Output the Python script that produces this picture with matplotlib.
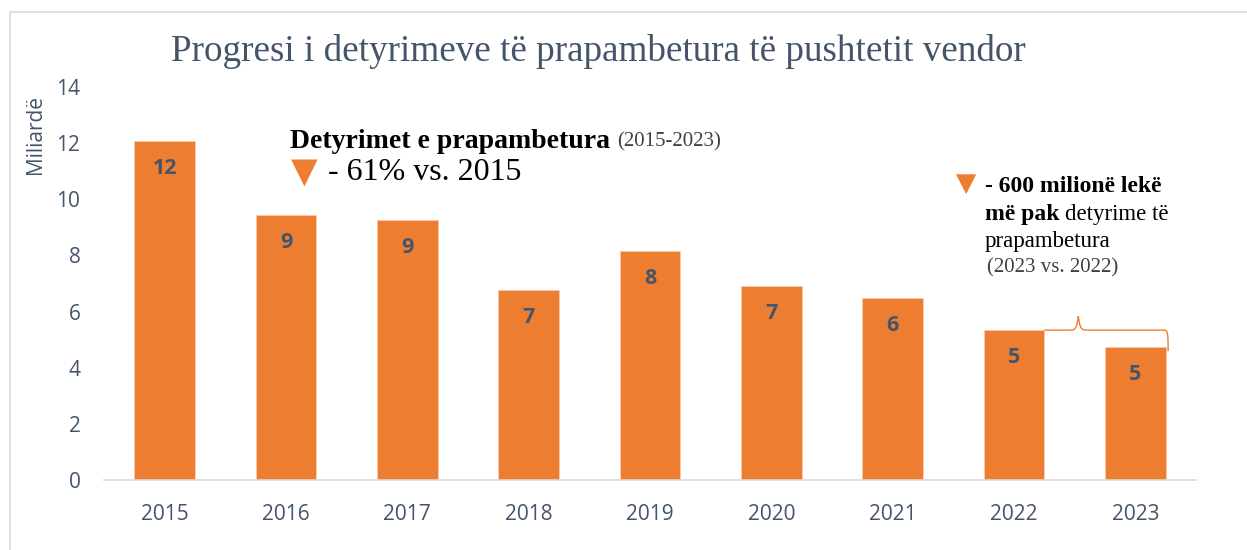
import numpy as np
import matplotlib
matplotlib.use("Agg")
import matplotlib.pyplot as plt
from matplotlib.path import Path
from matplotlib.patches import PathPatch, Rectangle

years = ["2015", "2016", "2017", "2018", "2019", "2020", "2021", "2022", "2023"]
values = [12.08, 9.44, 9.26, 6.77, 8.16, 6.91, 6.48, 5.34, 4.74]
labels = ["12", "9", "9", "7", "8", "7", "6", "5", "5"]
yticks = [0, 2, 4, 6, 8, 10, 12, 14]

ORANGE = "#ED7D31"
SLATE = "#44546A"

fig = plt.figure(figsize=(12.47, 5.5), dpi=100)
ax = fig.add_axes([104 / 1247, 1 - 480 / 550, (1196 - 104) / 1247, (480 - 87) / 550])

x = np.arange(len(years))
ax.bar(x, values, width=0.5, color=ORANGE, edgecolor="#F8CBAD", linewidth=0.6, zorder=2)

for xi, v, lab in zip(x, values, labels):
    ax.text(xi, v - 0.98, lab, ha="center", va="center", fontsize=15.5,
            fontweight="bold", color=SLATE, family="Open Sans")

ax.set_xlim(-0.5, 8.5)
ax.set_ylim(0, 14)
ax.set_yticks(yticks)
ax.set_xticks(x)
ax.set_xticklabels(years)
ax.tick_params(axis="both", length=0, labelsize=15, labelcolor=SLATE)
ax.tick_params(axis="x", pad=17)
ax.tick_params(axis="y", pad=17)
for lab in ax.get_xticklabels() + ax.get_yticklabels():
    lab.set_family("Open Sans")
for s in ["top", "right", "left"]:
    ax.spines[s].set_visible(False)
ax.spines["bottom"].set_color("#D9D9D9")
ax.spines["bottom"].set_linewidth(1.2)

ax.set_ylabel("Miliardë", fontsize=15, color=SLATE, family="Open Sans")
ax.yaxis.set_label_coords(-0.053, 0.878)

# title
fig.text(598 / 1247, 1 - 52 / 550, "Progresi i detyrimeve të prapambetura të pushtetit vendor",
         ha="center", va="center", fontsize=26.7, color=SLATE, family="Liberation Serif")

# left annotation
fig.text(290 / 1247, 1 - 142 / 550, "Detyrimet e prapambetura", ha="left", va="center",
         fontsize=20, fontweight="bold", color="black", family="Liberation Serif")
fig.text(617 / 1247, 1 - 142 / 550, "(2015-2023)", ha="left", va="center",
         fontsize=15, color="#404040", family="Liberation Serif")
fig.text(304 / 1247, 1 - 172 / 550, "▼", ha="center", va="center", fontsize=25,
         color=ORANGE, family="DejaVu Sans")
fig.text(328 / 1247, 1 - 173 / 550, "- 61% vs. 2015", ha="left", va="center",
         fontsize=23, color="black", family="Liberation Serif")

# right annotation
fig.text(966 / 1247, 1 - 184 / 550, "▼", ha="center", va="center", fontsize=19,
         color=ORANGE, family="DejaVu Sans")
fig.text(985 / 1247, 1 - 186 / 550, "- 600 milionë lekë", ha="left", va="center",
         fontsize=17, fontweight="bold", color="black", family="Liberation Serif")
fig.text(985 / 1247, 1 - 214 / 550, "më pak", ha="left", va="center",
         fontsize=17, fontweight="bold", color="black", family="Liberation Serif")
fig.text(1065 / 1247, 1 - 214 / 550, "detyrime të", ha="left", va="center",
         fontsize=16.5, color="black", family="Liberation Serif")
fig.text(985 / 1247, 1 - 242 / 550, "prapambetura", ha="left", va="center",
         fontsize=16.5, color="black", family="Liberation Serif")
fig.text(987 / 1247, 1 - 268 / 550, "(2023 vs. 2022)", ha="left", va="center",
         fontsize=15, color="#404040", family="Liberation Serif")

# brace between 2022 and 2023
y0 = values[-2]
x0, x1 = 7 + 0.25, 8 + 0.27
xm = 7.53
verts = [(x0, y0), (xm - 0.06, y0), (xm - 0.02, y0), (xm - 0.01, y0 + 0.15),
         (xm, y0 + 0.5), (xm, y0 + 0.5),
         (xm + 0.01, y0 + 0.15), (xm + 0.02, y0), (xm + 0.06, y0),
         (x1 - 0.03, y0), (x1, y0), (x1, y0 - 0.2), (x1, y0 - 0.75)]
codes = [Path.MOVETO, Path.LINETO, Path.CURVE4, Path.CURVE4, Path.CURVE4,
         Path.MOVETO, Path.CURVE4, Path.CURVE4, Path.CURVE4,
         Path.LINETO, Path.CURVE4, Path.CURVE4, Path.CURVE4]
ax.add_patch(PathPatch(Path(verts, codes), facecolor="none", edgecolor=ORANGE,
                       linewidth=1.0, clip_on=False, zorder=3))

# frame
fig.add_artist(Rectangle((10 / 1247, -0.1), 1.2, 1 - 12 / 550 + 0.1, transform=fig.transFigure,
                         facecolor="none", edgecolor="#D6DCE5", linewidth=1.2))

fig.savefig("out.png", dpi=100)
